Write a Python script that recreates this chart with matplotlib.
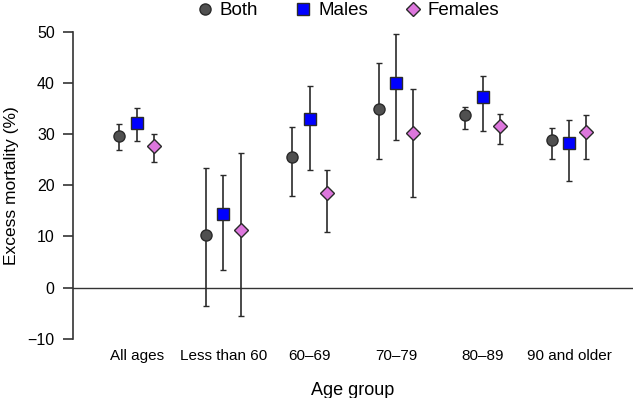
import matplotlib.pyplot as plt
import numpy as np
from matplotlib.lines import Line2D

plt.rcParams['font.family'] = ['Liberation Sans', 'DejaVu Sans']

groups = ["All ages", "Less than 60", "60\u201369", "70\u201379", "80\u201389", "90 and older"]

both = [29.6, 10.3, 25.5, 34.9, 33.7, 28.8]
both_lo = [26.8, -3.5, 17.9, 25.2, 30.9, 25.1]
both_hi = [32.0, 23.3, 31.3, 43.9, 35.2, 31.1]

males = [32.2, 14.3, 32.9, 40.0, 37.2, 28.2]
males_lo = [28.7, 3.4, 22.9, 28.8, 30.7, 20.9]
males_hi = [35.0, 22.1, 39.3, 49.5, 41.3, 32.7]

females = [27.7, 11.3, 18.4, 30.3, 31.6, 30.4]
females_lo = [24.6, -5.5, 10.9, 17.8, 28.0, 25.2]
females_hi = [30.1, 26.4, 22.9, 38.9, 33.9, 33.8]

fig = plt.figure(figsize=(6.33, 3.98), dpi=100)
ax = fig.add_axes([0.115, 0.123, 0.885, 0.823])

x = np.arange(1, len(groups) + 1)
series = [
    ("Both", both, both_lo, both_hi, -0.2, "o", "#505050", 8),
    ("Males", males, males_lo, males_hi, 0.0, "s", "#0000ff", 8),
    ("Females", females, females_lo, females_hi, 0.2, "D", "#dd77dd", 7.5),
]

ax.axhline(0, color="#333333", lw=1.0, zorder=1)

handles = []
for name, v, lo, hi, off, mk, col, ms in series:
    v = np.array(v)
    err = [v - np.array(lo), np.array(hi) - v]
    ax.errorbar(x + off, v, yerr=err, fmt=mk, color=col, ms=ms,
                mec="#2a2a2a", mew=1.0, ecolor="#2a2a2a", elinewidth=1.2,
                capsize=2.5, capthick=1.2, zorder=3)
    handles.append(Line2D([], [], ls="none", marker=mk, color=col, ms=ms,
                          mec="#2a2a2a", mew=1.0, label=name))

ax.set_xlim(0.26, 6.74)
ax.set_ylim(-12, 52)
ax.set_yticks([-10, 0, 10, 20, 30, 40, 50])
ax.set_yticklabels(["\u221210", "0", "10", "20", "30", "40", "50"])
ax.set_xticks(x)
ax.set_xticklabels(groups)

for s in ["top", "right", "bottom"]:
    ax.spines[s].set_visible(False)
ax.spines["left"].set_bounds(-10, 50)
ax.spines["left"].set_color("#333333")
ax.spines["left"].set_linewidth(1.2)

ax.tick_params(axis="y", length=7, width=1.2, color="#333333", labelsize=11.5, pad=6)
ax.tick_params(axis="x", length=0, labelsize=11, pad=0)

ax.set_ylabel("Excess mortality (%)", fontsize=12.5, labelpad=6)
ax.set_xlabel("Age group", fontsize=13, labelpad=14)

ax.legend(handles=handles, loc="lower center", bbox_to_anchor=(0.49, 0.978), ncol=3,
          frameon=False, fontsize=13.5, handletextpad=0.3, columnspacing=1.9,
          borderpad=0, handlelength=1.0)

fig.savefig("out.png", dpi=100)
